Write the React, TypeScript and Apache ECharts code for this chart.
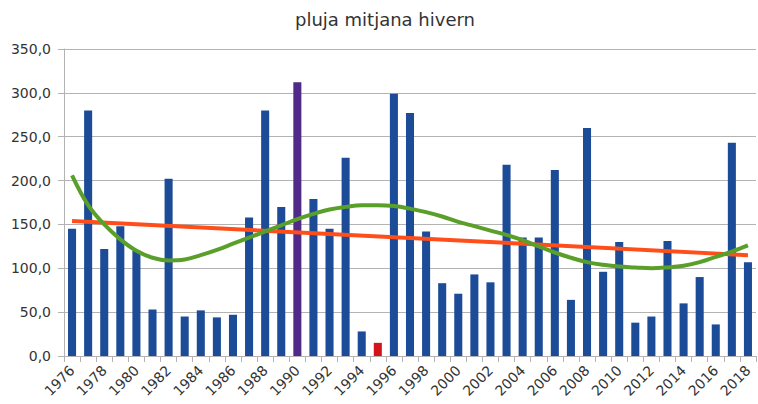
import React, { useEffect, useRef } from "react";
import * as echarts from "echarts";

const years: string[] = [];
for (let y = 1976; y <= 2018; y++) years.push(String(y));

const rainfall = [
  145, 280, 122, 148, 120, 53, 202, 45, 52, 44, 47, 158,
  280, 170, 312, 179, 145, 226, 28, 15, 299, 277, 142, 83,
  71, 93, 84, 218, 135, 135, 212, 64, 260, 96, 130, 38,
  45, 131, 60, 90, 36, 243, 107,
];

const linearTrend: [string, number][] = [
  ["1976", 154],
  ["2018", 115],
];

const polyTrend = [
  206, 172, 150, 133, 120, 112, 109, 110, 115, 121, 128, 135,
  142, 149, 156, 162, 167, 170, 172, 172, 171, 168, 164, 159,
  153, 148, 143, 138, 132, 125, 118, 112, 107, 104, 102, 101,
  100, 101, 103, 107, 113, 119, 126,
];

const yTicks = [0, 50, 100, 150, 200, 250, 300, 350];

const BAR_COLOR = "#1c4b98";
const HIGHLIGHT: Record<string, string> = { "1990": "#4f2a88", "1995": "#d4141c" };

export default function App() {
  const ref = useRef<HTMLDivElement>(null);
  useEffect(() => {
    if (!ref.current) return;
    const chart = echarts.init(ref.current, undefined, { renderer: "svg" });
    const font = "'DejaVu Sans', sans-serif";
    chart.setOption({
      animation: false,
      backgroundColor: "#ffffff",
      title: {
        text: "pluja mitjana hivern",
        left: 290,
        top: 5,
        textStyle: { fontFamily: font, fontSize: 18, fontWeight: "normal", color: "#333333" },
      },
      grid: { left: 64, top: 49, width: 692, height: 307, outerBoundsMode: "none" },
      xAxis: {
        type: "category",
        data: years,
        boundaryGap: true,
        axisLine: { show: true, lineStyle: { color: "#b3b3b3", width: 1 } },
        axisTick: { show: true, interval: 0, length: 6, lineStyle: { color: "#b3b3b3" } },
        axisLabel: {
          interval: 1,
          rotate: 45,
          margin: 12,
          fontFamily: font,
          fontSize: 14,
          color: "#333333",
        },
        splitLine: { show: false },
      },
      yAxis: {
        type: "value",
        min: yTicks[0],
        max: yTicks[yTicks.length - 1],
        interval: 50,
        axisLine: { show: true, lineStyle: { color: "#b3b3b3", width: 1 } },
        axisTick: { show: true, length: 6, lineStyle: { color: "#b3b3b3" } },
        axisLabel: {
          margin: 13,
          fontFamily: font,
          fontSize: 14,
          color: "#333333",
          formatter: (v: number) => v.toFixed(1).replace(".", ","),
        },
        splitLine: { show: true, lineStyle: { color: "#b3b3b3", width: 1 } },
      },
      series: [
        {
          type: "bar",
          barWidth: "50%",
          data: rainfall.map((v, i) => ({
            value: v,
            itemStyle: { color: HIGHLIGHT[years[i]] || BAR_COLOR },
          })),
          z: 2,
        },
        {
          type: "line",
          data: linearTrend,
          symbol: "none",
          lineStyle: { color: "#ff4e1a", width: 4 },
          z: 3,
        },
        {
          type: "line",
          data: polyTrend,
          smooth: 0.4,
          symbol: "none",
          lineStyle: { color: "#5a9f2a", width: 4 },
          z: 4,
        },
      ],
    });
    return () => chart.dispose();
  }, []);
  return (
    <div
      ref={ref}
      style={{ position: "fixed", left: 0, top: 0, width: 758, height: 404, background: "#fff" }}
    />
  );
}
